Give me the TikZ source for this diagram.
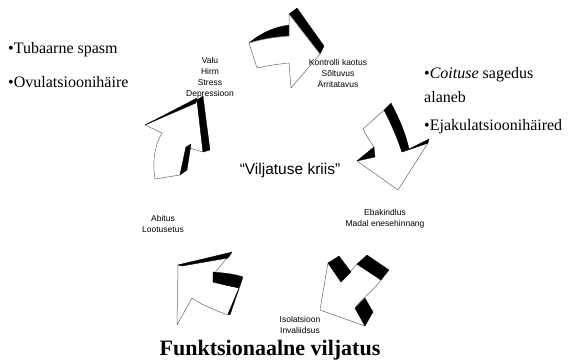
\documentclass[tikz,border=0pt]{standalone}
\usepackage{fontspec}
\setmainfont{Liberation Serif}
\setsansfont{Liberation Sans}
\begin{document}
\begin{tikzpicture}[x=1pt,y=-1pt,
  face/.style={fill=white,draw=black!60,line width=0.5pt,line join=round},
  side/.style={fill=black,draw=black,line width=0.3pt,line join=round},
  small/.style={font=\sffamily\fontsize{8.5}{11}\selectfont,align=center,inner sep=0pt},
  bul/.style={font=\rmfamily\fontsize{16}{20}\selectfont,anchor=west,inner sep=0pt}]
\useasboundingbox (0,0) rectangle (573,361);
% arrow 1 (top)
\fill[side] (249,43) .. controls (262,32) and (275,27) .. (289,25) -- (289,36) .. controls (275,37) and (262,39) .. (249,43) -- cycle;
\draw[side] (289,14) -- (297,8) -- (324,46) -- (320,54) -- cycle;
\draw[face] (249,43) .. controls (262,39) and (275,37) .. (289,36) -- (289,14) -- (320,54) -- (291,88) -- (289,63) .. controls (278,64) and (266,66) .. (257,68) -- cycle;
% arrow 2 (right)
\draw[face] (363,129) -- (384,110) .. controls (392,125) and (398,140) .. (402,152) -- (428,143) -- (398,190) -- (357,161) -- (374,147) .. controls (369,140) and (366,135) .. (363,129) -- cycle;
\draw[side] (384,110) -- (391,103) .. controls (400,120) and (406,135) .. (409,149) -- (429,139) -- (428,143) -- (402,152) .. controls (398,140) and (392,125) .. (384,110) -- cycle;
\draw[side] (357,161) -- (374,147) -- (375,157) -- cycle;
% arrow 3 (bottom right)
\draw[face] (328,263) -- (341,282) -- (357,264) -- (381,280) .. controls (375,288) and (368,294) .. (360,302) -- (355,308) -- (365,326) -- (320,310) -- cycle;
\draw[side] (328,263) -- (339,256) -- (351,272) -- (341,282) -- cycle;
\draw[side] (357,264) -- (367,255) -- (389,270) -- (381,280) -- cycle;
\draw[side] (355,308) -- (365,298) -- (373,312) -- (365,326) -- cycle;
% arrow 4 (bottom left)
\draw[face] (178,265) -- (231,253) -- (213,275) -- (213,282) .. controls (222,284) and (231,286) .. (239,288) -- (228,315) .. controls (212,309) and (200,304) .. (192,298) -- (177,325) -- cycle;
\draw[side] (178,265) -- (232,252) -- (228,258) -- (182,266) -- cycle;
\draw[side] (213,272) .. controls (225,273) and (235,274) .. (243,277) -- (230,315) -- (228,314) -- (239,288) .. controls (230,286) and (220,284) .. (213,282) -- cycle;
% arrow 5 (left)
\draw[face] (155,179) .. controls (152,160) and (155,145) .. (162,133) -- (145,125) -- (197,100) -- (203,152) -- (186,147) -- (180,175) -- cycle;
\draw[side] (197,100) -- (203,96) -- (210,150) -- (203,152) -- cycle;
\draw[side] (145,125) -- (197,98) -- (196,103) -- cycle;
\draw[side] (186,147) -- (191,144) -- (187,170) -- (180,175) -- cycle;
% texts
\node[small] (t1) at (210,78) {Valu\\Hirm\\Stress\\Depressioon};
\node[small] (t2) at (338,73) {Kontrolli kaotus\\Sõltuvus\\Ärritatavus};
\node[small] (t3) at (385,219) {Ebakindlus\\Madal enesehinnang};
\node[small] (t4) at (300,325) {Isolatsioon\\Invaliidsus};
\node[small] (t5) at (163,224) {Abitus\\Lootusetus};
\node[font=\sffamily\fontsize{15.5}{18}\selectfont,inner sep=0pt] (c) at (290,170) {“Viljatuse kriis”};
\node[bul] (l1) at (8,50) {•Tubaarne spasm};
\node[bul] (l2) at (8,82) {•Ovulatsioonihäire};
\node[bul] (r1) at (424,75) {•\textit{Coituse} sagedus};
\node[bul] (r2) at (424,97) {alaneb};
\node[bul] (r3) at (424,127) {•Ejakulatsioonihäired};
\node[font=\rmfamily\bfseries\fontsize{22}{26}\selectfont,inner sep=0pt,anchor=base] (ti) at (270,355) {Funktsionaalne viljatus};
\end{tikzpicture}
\end{document}
